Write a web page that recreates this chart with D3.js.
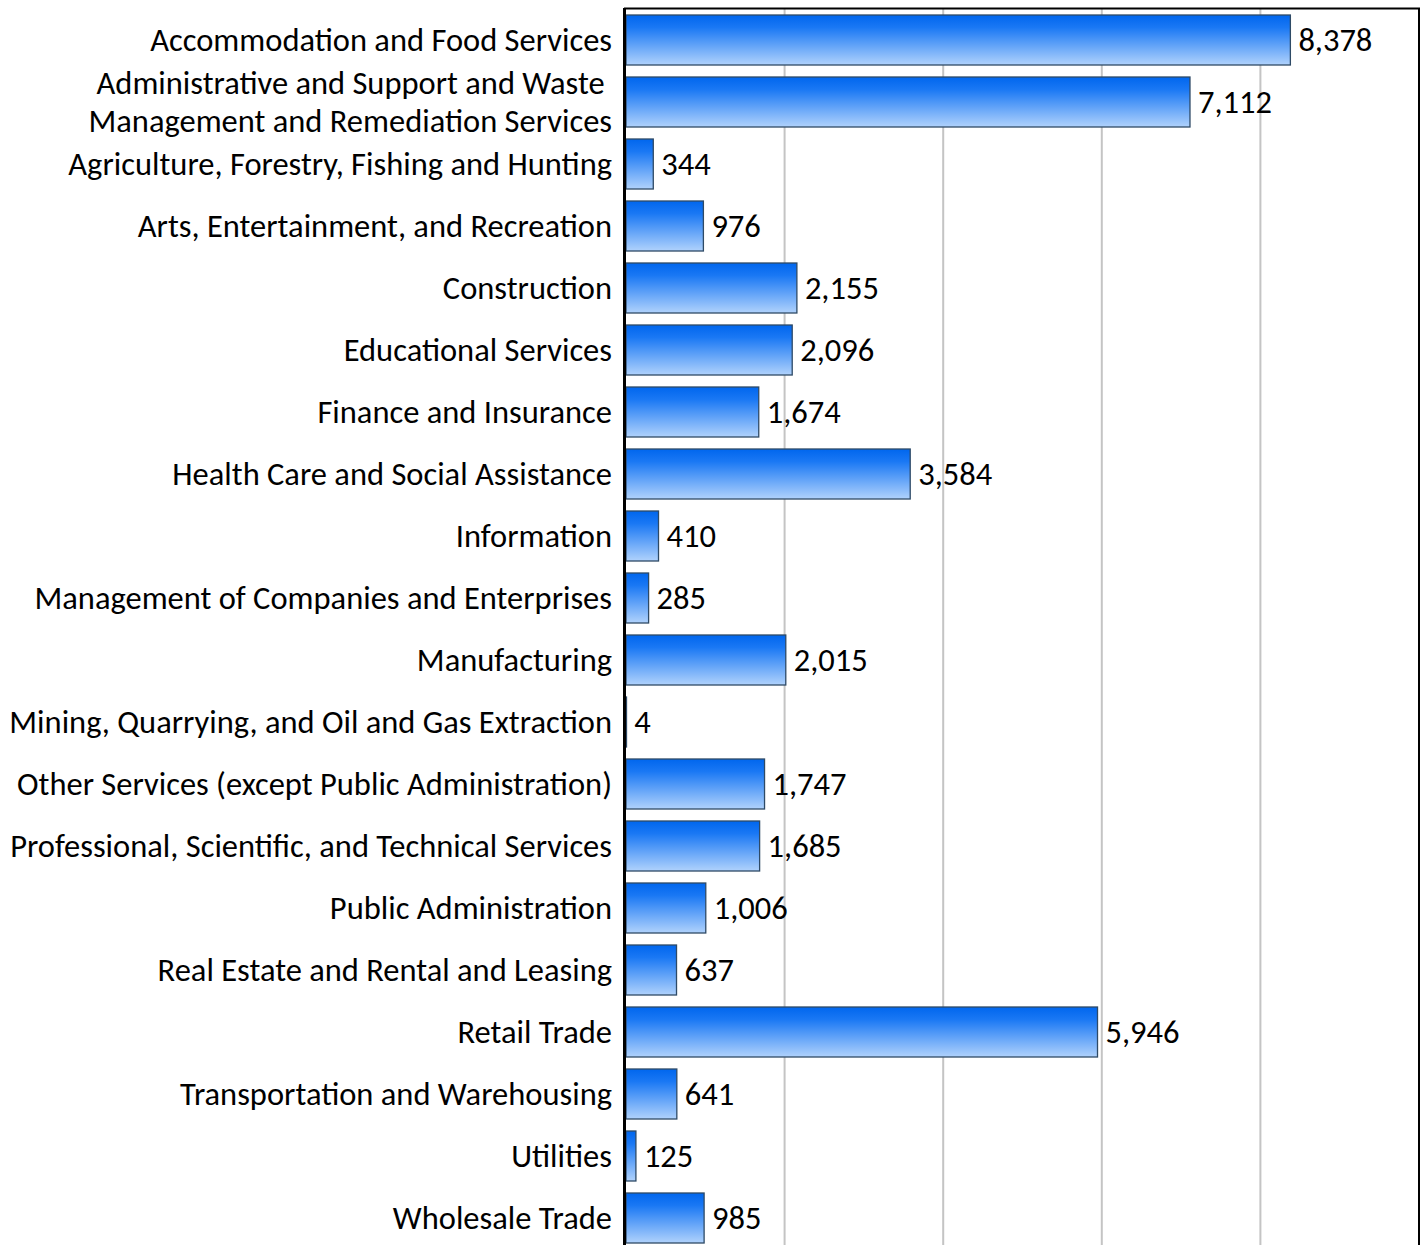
<!DOCTYPE html>
<html><head><meta charset="utf-8">
<script src="https://cdn.jsdelivr.net/npm/d3@7"></script>
<style>html,body{margin:0;padding:0;background:#fff;}svg{display:block;}</style>
</head><body>
<svg id="chart" width="1424" height="1245"></svg>
<script>
const categories = [
  "Accommodation and Food Services",
  "Administrative and Support and Waste \nManagement and Remediation Services",
  "Agriculture, Forestry, Fishing and Hunting",
  "Arts, Entertainment, and Recreation",
  "Construction",
  "Educational Services",
  "Finance and Insurance",
  "Health Care and Social Assistance",
  "Information",
  "Management of Companies and Enterprises",
  "Manufacturing",
  "Mining, Quarrying, and Oil and Gas Extraction",
  "Other Services (except Public Administration)",
  "Professional, Scientific, and Technical Services",
  "Public Administration",
  "Real Estate and Rental and Leasing",
  "Retail Trade",
  "Transportation and Warehousing",
  "Utilities",
  "Wholesale Trade"
];
const values = [8378, 7112, 344, 976, 2155, 2096, 1674, 3584, 410, 285, 2015, 4, 1747, 1685, 1006, 637, 5946, 641, 125, 985];
const xTicks = [0, 2000, 4000, 6000, 8000, 10000];

(function () {
const svg = d3.select("#chart");
const pLeft = 626, pRight = 1419, pTop = 9, rowStep = 62;
const pBottom = pTop + rowStep * categories.length;
const FONT = "Carlito, Lato, 'Open Sans', sans-serif";

const x = d3.scaleLinear().domain([0, 10000]).range([pLeft, pRight]);
const y = d3.scaleBand().domain(d3.range(categories.length)).range([pTop, pBottom]).paddingInner(12/62).paddingOuter(6/62);

// font size fitting: widest label ~602px in reference
const probe = svg.append("text").attr("font-family", FONT).attr("font-size", 32)
  .text("Professional, Scientific, and Technical Services");
const w = probe.node().getComputedTextLength();
probe.remove();
const fs = 32 * 602 / w;

const defs = svg.append("defs");
const grad = defs.append("linearGradient").attr("id", "barGrad").attr("x1", 0).attr("y1", 0).attr("x2", 0).attr("y2", 1);
grad.append("stop").attr("offset", "0%").attr("stop-color", "#0066ee");
grad.append("stop").attr("offset", "25%").attr("stop-color", "#1a78f4");
grad.append("stop").attr("offset", "100%").attr("stop-color", "#b0d2fc");

// gridlines
svg.append("g").selectAll("line").data(xTicks.slice(1, -1)).join("line")
  .attr("x1", d => x(d)).attr("x2", d => x(d))
  .attr("y1", pTop).attr("y2", 1245)
  .attr("stroke", "#c4c4c4").attr("stroke-width", 2);

// frame: top and right
svg.append("line").attr("x1", pLeft - 2).attr("x2", pRight + 1).attr("y1", pTop - 0.5).attr("y2", pTop - 0.5)
  .attr("stroke", "#000").attr("stroke-width", 2);
svg.append("line").attr("x1", pRight).attr("x2", pRight).attr("y1", pTop - 1).attr("y2", 1245)
  .attr("stroke", "#000").attr("stroke-width", 2);

// bars
svg.append("g").selectAll("rect").data(values).join("rect")
  .attr("x", x(0))
  .attr("y", (d, i) => y(i))
  .attr("width", d => Math.max(0.5, x(d) - x(0)))
  .attr("height", y.bandwidth())
  .attr("fill", "url(#barGrad)")
  .attr("stroke", "#2e4a66").attr("stroke-width", 1.3);

// axis line
svg.append("line").attr("x1", pLeft - 1.5).attr("x2", pLeft - 1.5).attr("y1", pTop - 1).attr("y2", 1245)
  .attr("stroke", "#000").attr("stroke-width", 3);

// category labels
const lbl = svg.append("g").attr("font-family", FONT).attr("font-size", fs).attr("fill", "#000").attr("text-anchor", "end");
categories.forEach((c, i) => {
  const cy = y(i) + y.bandwidth() / 2;
  const lines = c.split("\n");
  const t = lbl.append("text").attr("x", 612).attr("y", cy).style("white-space", "pre");
  lines.forEach((ln, j) => {
    t.append("tspan").attr("x", 612)
      .attr("y", cy + (j - (lines.length - 1) / 2) * 38)
      .attr("dy", "0.35em").text(ln);
  });
});

// value labels
svg.append("g").attr("font-family", FONT).attr("font-size", fs).attr("fill", "#000")
  .selectAll("text").data(values).join("text")
  .attr("x", d => x(d) + 8)
  .attr("y", (d, i) => y(i) + y.bandwidth() / 2)
  .attr("dy", "0.35em")
  .text(d => d3.format(",")(d));
})();
</script>
</body></html>
